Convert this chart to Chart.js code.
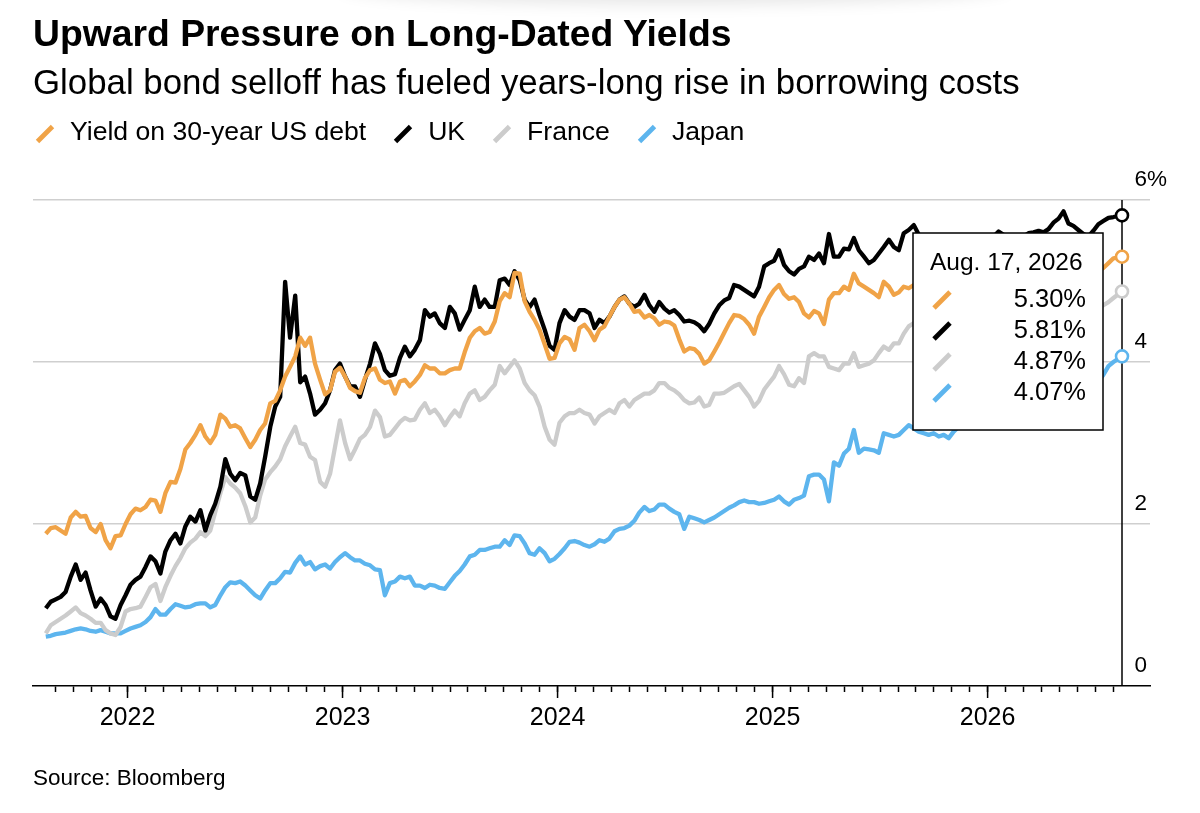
<!DOCTYPE html>
<html>
<head>
<meta charset="utf-8">
<script src="https://cdn.jsdelivr.net/npm/chart.js@4.4.1/dist/chart.umd.min.js"></script>
<style>
html,body{margin:0;padding:0;background:#fff;}
#wrap{position:relative;width:1200px;height:813px;overflow:hidden;font-family:'Liberation Sans',Arial,Helvetica,sans-serif;color:#000;background:#fff;}
#shade{position:absolute;left:340px;top:-34px;width:670px;height:34px;border-radius:50%;box-shadow:0 4px 16px rgba(0,0,0,0.10);}
#c{position:absolute;left:0;top:0;}
.t{position:absolute;left:33px;white-space:nowrap;line-height:1;}
#title{top:14.7px;font-size:37.3px;font-weight:700;}
#sub{top:64.6px;font-size:34.85px;}
#legend{position:absolute;left:35px;top:117.5px;height:27px;display:flex;align-items:center;font-size:26.6px;line-height:1;white-space:nowrap;}
.item{display:flex;align-items:center;margin-right:27px;}
.item svg{margin-right:15px;position:relative;top:3px;}
#source{top:767px;font-size:22.5px;}
</style>
</head>
<body>
<div id="wrap">
  <div id="shade"></div>
  <canvas id="c" width="1200" height="813"></canvas>
  <div class="t" id="title">Upward Pressure on Long-Dated Yields</div>
  <div class="t" id="sub">Global bond selloff has fueled years-long rise in borrowing costs</div>
  <div id="legend"></div>
  <div class="t" id="source">Source: Bloomberg</div>
</div>
<script>
// ---- sampling dates (decimal years) ----
const dates = [
2021.620,2021.643,2021.666,2021.689,2021.712,2021.736,2021.759,2021.782,2021.805,2021.828,
2021.852,2021.875,2021.898,2021.921,2021.944,2021.968,2021.991,2022.014,2022.037,2022.060,
2022.084,2022.107,2022.130,2022.153,2022.176,2022.200,2022.223,2022.246,2022.269,2022.292,
2022.316,2022.339,2022.362,2022.385,2022.408,2022.432,2022.455,2022.478,2022.501,2022.524,
2022.548,2022.571,2022.594,2022.617,2022.640,2022.664,2022.687,2022.710,2022.733,2022.756,
2022.780,2022.803,2022.826,2022.849,2022.872,2022.896,2022.919,2022.942,2022.965,2022.988,
2023.012,2023.035,2023.058,2023.081,2023.104,2023.128,2023.151,2023.174,2023.197,2023.220,
2023.244,2023.267,2023.290,2023.313,2023.336,2023.360,2023.383,2023.406,2023.429,2023.452,
2023.476,2023.499,2023.522,2023.545,2023.568,2023.592,2023.615,2023.638,2023.661,2023.684,
2023.708,2023.731,2023.754,2023.777,2023.800,2023.824,2023.847,2023.870,2023.893,2023.916,
2023.940,2023.963,2023.986,2024.009,2024.033,2024.056,2024.079,2024.102,2024.125,2024.149,
2024.172,2024.195,2024.218,2024.241,2024.265,2024.288,2024.311,2024.334,2024.357,2024.380,
2024.404,2024.427,2024.450,2024.473,2024.497,2024.520,2024.543,2024.566,2024.589,2024.613,
2024.636,2024.659,2024.682,2024.705,2024.729,2024.752,2024.775,2024.798,2024.821,2024.845,
2024.868,2024.891,2024.914,2024.937,2024.961,2024.984,2025.007,2025.030,2025.053,2025.077,
2025.100,2025.123,2025.146,2025.169,2025.193,2025.216,2025.239,2025.262,2025.285,2025.309,
2025.332,2025.355,2025.378,2025.401,2025.425,2025.448,2025.471,2025.494,2025.517,2025.541,
2025.564,2025.587,2025.610,2025.633,2025.657,2025.680,2025.703,2025.726,2025.749,2025.773,
2025.796,2025.819,2025.842,2025.866,2025.889,2025.912,2025.935,2025.958,2025.981,2026.005,
2026.028,2026.051,2026.074,2026.098,2026.121,2026.144,2026.167,2026.190,2026.214,2026.237,
2026.260,2026.283,2026.306,2026.330,2026.353,2026.376,2026.399,2026.422,2026.445,2026.469,
2026.492,2026.515,2026.538,2026.562,2026.585,2026.625
];

// ---- 30-year yields, % ----
const usYield = [
1.88,1.95,1.96,1.92,1.88,2.08,2.15,2.09,2.10,1.95,
1.90,2.00,1.80,1.70,1.85,1.86,2.00,2.12,2.19,2.17,
2.21,2.30,2.29,2.15,2.38,2.52,2.51,2.68,2.92,3.00,
3.10,3.22,3.08,3.00,3.10,3.35,3.30,3.20,
3.22,3.18,3.06,2.95,3.04,3.16,3.24,3.49,3.52,3.65,
3.82,3.94,4.07,4.30,4.20,4.30,3.98,3.78,3.60,3.65,
3.88,3.93,3.82,3.68,3.64,3.62,3.80,3.90,3.92,3.78,
3.74,3.76,3.61,3.76,3.78,3.70,
3.76,3.84,3.96,3.92,3.92,3.86,3.86,3.90,3.92,3.92,
4.12,4.30,4.38,4.42,4.35,4.37,4.50,4.75,4.85,4.80,
5.10,5.09,4.75,4.62,4.52,4.40,4.22,4.04,4.05,4.23,
4.31,4.28,4.15,4.42,4.46,4.38,
4.27,4.40,4.44,4.56,4.68,4.77,4.80,4.72,4.62,4.63,
4.55,4.58,4.54,4.46,4.50,4.49,4.45,4.28,4.13,4.17,
4.16,4.10,3.98,4.02,4.13,4.24,4.36,4.48,4.58,4.57,
4.53,4.46,4.35,4.56,4.68,4.80,
4.89,4.95,4.84,4.78,4.80,4.74,4.60,4.55,4.63,4.60,
4.47,4.77,4.85,4.85,4.93,4.89,5.09,4.97,4.93,4.89,
4.85,4.80,4.99,4.93,4.83,4.86,4.93,4.91,
4.95,4.90,4.93,4.98,4.94,4.90,4.86,4.92,4.97,4.95,
4.90,4.94,5.00,5.02,4.97,4.95,5.00,5.05,5.02,4.98,
5.03,5.08,5.05,5.02,5.06,5.10,5.08,5.12,5.18,5.22,
5.28,5.18,5.14,5.10,5.06,5.04,5.08,5.12,5.16,5.22,5.28,
5.30
];
const ukYield = [
0.96,1.04,1.07,1.10,1.16,1.35,1.50,1.31,1.40,1.18,
0.98,1.08,1.00,0.86,0.83,1.00,1.12,1.25,1.31,1.35,
1.47,1.60,1.54,1.39,1.66,1.80,1.88,1.76,1.97,2.09,
2.03,2.17,1.92,2.11,2.25,2.46,2.80,2.62,
2.54,2.63,2.60,2.34,2.30,2.50,2.83,3.20,3.45,3.57,
4.99,4.30,4.82,3.75,3.82,3.61,3.35,3.41,3.49,3.65,
3.90,3.98,3.82,3.70,3.70,3.57,3.78,3.98,4.23,4.10,
3.90,3.83,3.85,4.05,4.19,4.07,
4.15,4.27,4.64,4.56,4.60,4.48,4.42,4.68,4.60,4.40,
4.52,4.64,4.93,4.68,4.77,4.68,4.68,5.01,5.03,4.95,
5.12,5.01,4.77,4.68,4.77,4.58,4.40,4.20,4.15,4.48,
4.64,4.56,4.52,4.64,4.64,4.60,
4.42,4.52,4.48,4.56,4.68,4.77,4.81,4.72,4.68,4.72,
4.83,4.70,4.62,4.74,4.66,4.61,4.64,4.58,4.50,4.51,
4.49,4.45,4.38,4.47,4.60,4.70,4.76,4.79,4.95,4.93,
4.89,4.85,4.81,4.93,5.18,5.22,
5.25,5.38,5.20,5.12,5.08,5.15,5.18,5.30,5.26,5.34,
5.22,5.58,5.30,5.30,5.40,5.39,5.53,5.38,5.30,5.22,
5.26,5.34,5.42,5.51,5.42,5.38,5.59,5.63,
5.69,5.57,5.55,5.50,5.48,5.52,5.45,5.40,5.44,5.48,
5.42,5.46,5.50,5.52,5.47,5.50,5.55,5.61,5.57,5.50,
5.54,5.56,5.55,5.59,5.60,5.62,5.60,5.64,5.72,5.77,
5.86,5.71,5.68,5.63,5.58,5.55,5.62,5.70,5.74,5.78,5.79,
5.81
];
const franceYield = [
0.65,0.75,0.79,0.83,0.87,0.92,0.97,0.90,0.87,0.83,
0.78,0.78,0.69,0.65,0.63,0.73,0.92,0.95,0.96,0.98,
1.10,1.22,1.26,1.05,1.22,1.36,1.48,1.58,1.70,1.77,
1.82,1.90,1.85,1.92,2.15,2.38,2.58,2.50,
2.45,2.38,2.22,2.02,2.08,2.35,2.55,2.64,2.71,2.80,
2.96,3.08,3.20,3.00,2.98,2.83,2.79,2.52,2.46,2.62,
2.95,3.28,3.00,2.80,2.92,3.05,3.10,3.20,3.40,3.32,
3.08,3.10,3.18,3.26,3.31,3.28,
3.29,3.41,3.49,3.37,3.41,3.33,3.22,3.32,3.40,3.33,
3.49,3.61,3.65,3.53,3.57,3.65,3.72,3.95,3.86,3.94,
4.02,3.92,3.74,3.65,3.59,3.45,3.20,3.04,2.98,3.25,
3.33,3.37,3.37,3.41,3.37,3.35,
3.24,3.33,3.37,3.41,3.37,3.49,3.53,3.45,3.53,3.57,
3.61,3.61,3.65,3.74,3.74,3.68,3.65,3.60,3.53,3.49,
3.50,3.56,3.45,3.47,3.61,3.61,3.62,3.66,3.70,3.73,
3.65,3.57,3.45,3.52,3.66,3.74,
3.82,3.95,3.85,3.72,3.70,3.80,3.74,4.07,4.11,4.07,
4.07,3.94,3.92,3.90,3.98,3.98,4.11,3.94,3.96,3.98,
4.02,4.11,4.19,4.15,4.23,4.23,4.35,4.44,
4.48,4.45,4.40,4.44,4.50,4.46,4.42,4.47,4.52,4.50,
4.46,4.50,4.55,4.52,4.48,4.53,4.58,4.55,4.52,4.57,
4.60,4.56,4.54,4.58,4.62,4.60,4.57,4.61,4.66,4.70,
4.74,4.68,4.64,4.60,4.58,4.62,4.66,4.66,4.70,4.74,4.79,
4.87
];
const japanYield = [
0.61,0.62,0.64,0.65,0.66,0.68,0.70,0.71,0.70,0.68,
0.67,0.69,0.67,0.65,0.65,0.65,0.68,0.71,0.73,0.75,
0.79,0.85,0.95,0.88,0.88,0.95,1.01,0.99,0.97,0.98,
1.01,1.02,1.02,0.97,1.00,1.12,1.22,1.28,
1.27,1.29,1.24,1.18,1.12,1.08,1.18,1.27,1.27,1.33,
1.41,1.40,1.52,1.60,1.50,1.53,1.44,1.48,1.50,1.45,
1.53,1.59,1.64,1.59,1.55,1.55,1.51,1.49,1.44,1.43,
1.12,1.27,1.29,1.35,1.33,1.35,
1.24,1.24,1.21,1.25,1.24,1.21,1.20,1.28,1.36,1.42,
1.50,1.60,1.62,1.68,1.68,1.70,1.72,1.72,1.80,1.74,
1.86,1.85,1.76,1.64,1.62,1.70,1.64,1.54,1.57,1.63,
1.70,1.78,1.79,1.77,1.74,1.72,
1.75,1.80,1.78,1.82,1.91,1.94,1.95,1.98,2.04,2.14,
2.21,2.16,2.18,2.24,2.24,2.19,2.15,2.12,1.94,2.09,
2.07,2.05,2.02,2.05,2.08,2.12,2.16,2.20,2.23,2.27,
2.29,2.27,2.27,2.25,2.26,2.28,
2.30,2.34,2.28,2.24,2.30,2.32,2.35,2.59,2.61,2.61,
2.55,2.28,2.76,2.72,2.87,2.93,3.16,2.88,2.93,2.92,
2.91,2.88,3.12,3.10,3.08,3.10,3.16,3.22,
3.18,3.14,3.12,3.10,3.12,3.08,3.10,3.06,3.14,3.20,
3.24,3.28,3.30,3.35,3.32,3.38,3.42,3.40,3.45,3.50,
3.48,3.52,3.55,3.58,3.56,3.60,3.64,3.62,3.66,3.70,
3.68,3.72,3.75,3.72,3.76,3.74,3.78,3.76,3.84,3.95,4.00,
4.07
];

const seriesNames = ['Yield on 30-year US debt', 'UK', 'France', 'Japan'];
const seriesColors = ['#F0A347', '#000000', '#CCCCCC', '#5DB5EE'];
const yearLabels = ['2022', '2023', '2024', '2025', '2026'];
const yTickValues = [0, 2, 4, 6];
const tooltipDate = 'Aug. 17, 2026';

const allSeries = [usYield, ukYield, franceYield, japanYield];
const FONT = "'Liberation Sans', Arial, Helvetica, sans-serif";

// ---- legend (HTML text) ----
const legendEl = document.getElementById('legend');
seriesNames.forEach((name, i) => {
  const item = document.createElement('div');
  item.className = 'item';
  item.innerHTML = '<svg width="20" height="20" viewBox="0 0 20 20"><line x1="2.5" y1="17.5" x2="17.5" y2="2.5" stroke="' +
    seriesColors[i] + '" stroke-width="4.8" stroke-linecap="butt"/></svg>';
  const span = document.createElement('span');
  span.textContent = name;
  item.appendChild(span);
  legendEl.appendChild(item);
});

// ---- axis extents / month ticks ----
const X_MIN = 2021.5605, X_MAX = 2026.7552;
const monthTicks = [];
for (let y = 2021; y <= 2026; y++) {
  for (let m = 0; m < 12; m++) {
    const v = y + m / 12;
    if (v >= 2021.66 && v <= 2026.59) monthTicks.push(+v.toFixed(4));
  }
}
const N = Math.min(dates.length, ...allSeries.map(s => s.length));
const last = N - 1;

const decor = {
  id: 'decor',
  beforeDatasetsDraw(chart) {
    const {ctx, chartArea, scales: {x}} = chart;
    const px = x.getPixelForValue(dates[last]);
    ctx.save();
    ctx.strokeStyle = '#000';
    ctx.lineWidth = 1.5;
    ctx.beginPath();
    ctx.moveTo(px, chartArea.top);
    ctx.lineTo(px, chartArea.bottom);
    ctx.stroke();
    ctx.restore();
  },
  afterDatasetsDraw(chart) {
    const {ctx, chartArea, scales: {x}} = chart;
    const px = x.getPixelForValue(dates[last]);
    const w = 190, h = 197;
    const right = px - 19, left = right - w, top = chartArea.top + 33;
    ctx.save();
    ctx.fillStyle = '#fff';
    ctx.fillRect(left, top, w, h);
    ctx.strokeStyle = '#000';
    ctx.lineWidth = 1.5;
    ctx.strokeRect(left, top, w, h);
    ctx.fillStyle = '#000';
    ctx.font = '24.5px ' + FONT;
    ctx.textBaseline = 'middle';
    ctx.textAlign = 'left';
    ctx.fillText(tooltipDate, left + 17, top + 30);
    ctx.font = '25.5px ' + FONT;
    allSeries.forEach((vals, i) => {
      const cy = top + 67 + i * 31;
      ctx.strokeStyle = seriesColors[i];
      ctx.lineWidth = 4.8;
      ctx.lineCap = 'butt';
      ctx.beginPath();
      ctx.moveTo(left + 21, cy + 8);
      ctx.lineTo(left + 37, cy - 8);
      ctx.stroke();
      ctx.textAlign = 'right';
      ctx.fillStyle = '#000';
      ctx.fillText(vals[last].toFixed(2) + '%', right - 17, cy);
    });
    ctx.restore();
  },
  afterDraw(chart) {
    const {ctx, chartArea, scales: {x}} = chart;
    ctx.save();
    ctx.strokeStyle = '#000';
    ctx.lineWidth = 1.5;
    yearLabels.forEach(l => {
      const px = x.getPixelForValue(+l);
      ctx.beginPath();
      ctx.moveTo(px, chartArea.bottom);
      ctx.lineTo(px, chartArea.bottom + 12);
      ctx.stroke();
    });
    ctx.restore();
  }
};

new Chart(document.getElementById('c'), {
  type: 'line',
  data: {
    datasets: allSeries.map((vals, i) => ({
      label: seriesNames[i],
      data: dates.slice(0, N).map((d, j) => ({x: d, y: vals[j]})),
      borderColor: seriesColors[i],
      backgroundColor: seriesColors[i],
      borderWidth: 4.3,
      borderJoinStyle: 'round',
      tension: 0,
      pointRadius: ctx => ctx.dataIndex === last ? 6 : 0,
      pointHoverRadius: 0,
      pointBackgroundColor: '#ffffff',
      pointBorderColor: seriesColors[i],
      pointBorderWidth: 2.6
    }))
  },
  options: {
    responsive: false,
    animation: false,
    events: [],
    layout: {padding: {left: 33, right: 0, top: 200, bottom: 80}},
    plugins: {legend: {display: false}, tooltip: {enabled: false}, title: {display: false}},
    scales: {
      x: {
        type: 'linear',
        min: X_MIN,
        max: X_MAX,
        afterBuildTicks: s => { s.ticks = monthTicks.map(v => ({value: v})); },
        afterFit: s => { s.height = 47; },
        ticks: {
          autoSkip: false,
          maxRotation: 0,
          padding: 11.5,
          color: '#000',
          font: {family: FONT, size: 25},
          callback: v => {
            const r = Math.round(v);
            return (Math.abs(v - r) < 1e-3 && yearLabels.includes(String(r))) ? String(r) : '';
          }
        },
        grid: {drawOnChartArea: false, tickLength: 6, tickColor: '#000', tickWidth: 1.5},
        border: {display: true, color: '#000', width: 1.5}
      },
      y: {
        position: 'right',
        min: 0,
        max: 6,
        afterBuildTicks: s => { s.ticks = yTickValues.map(v => ({value: v})); },
        afterFit: s => { s.width = 50; },
        ticks: {
          mirror: true,
          crossAlign: 'far',
          padding: 17,
          labelOffset: -20,
          color: '#000',
          font: {family: FONT, size: 22.5},
          callback: v => v === 6 ? '6%' : String(v)
        },
        grid: {
          drawTicks: false,
          lineWidth: 1.5,
          color: ctx => (ctx.tick && ctx.tick.value === 0) ? 'rgba(0,0,0,0)' : '#cfcfcf'
        },
        border: {display: false}
      }
    }
  },
  plugins: [decor]
});
</script>
</body>
</html>
